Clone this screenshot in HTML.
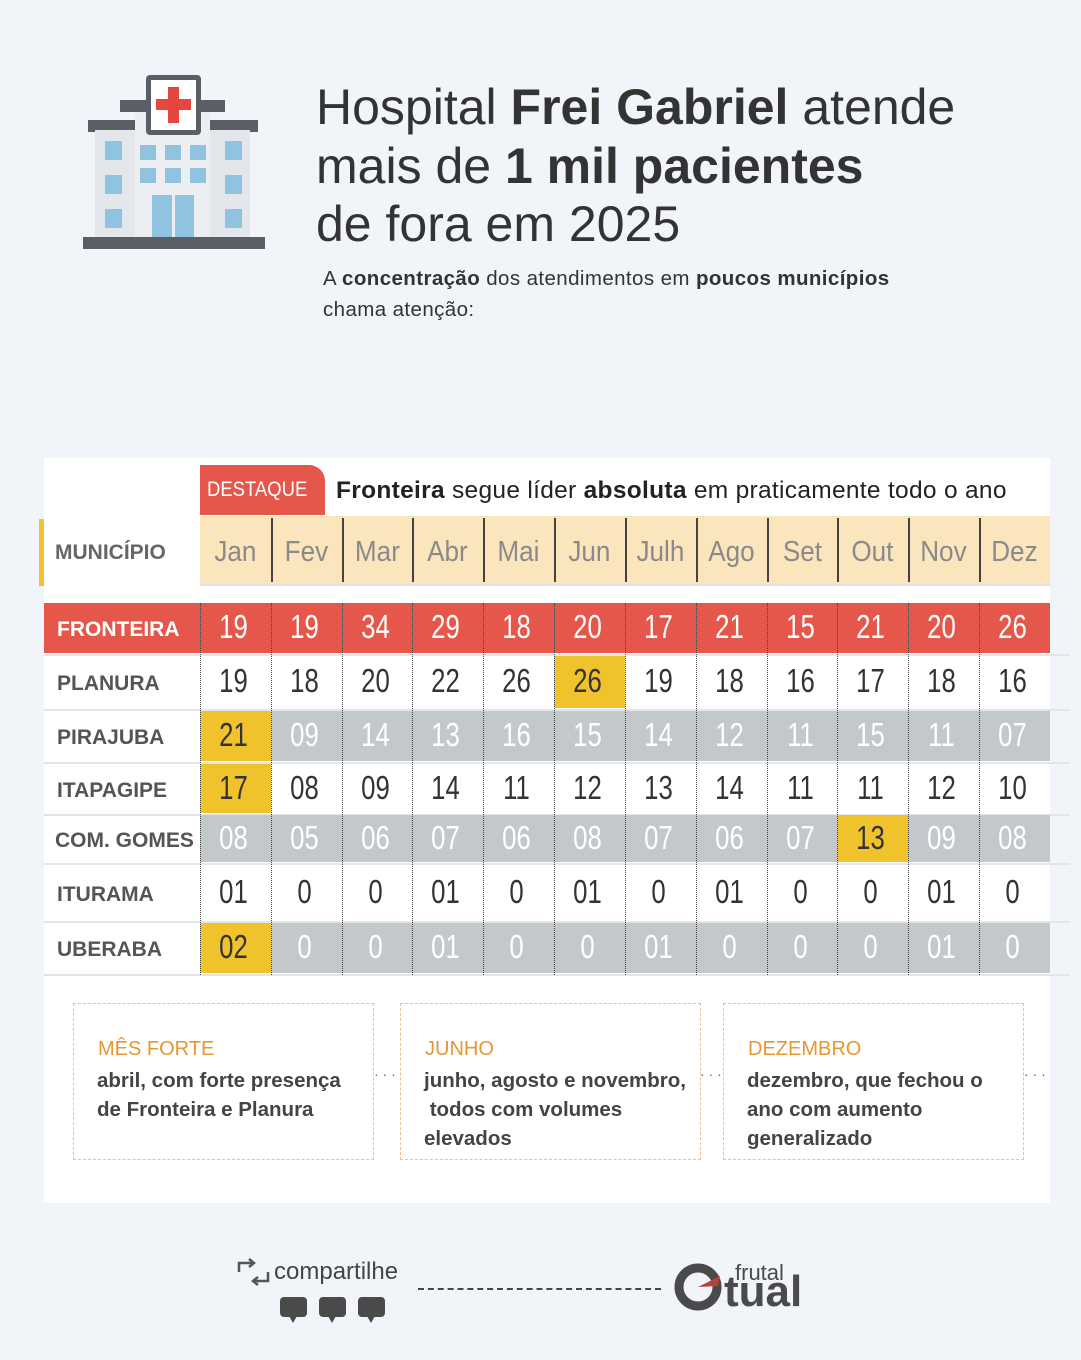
<!DOCTYPE html>
<html><head><meta charset="utf-8"><style>
*{margin:0;padding:0;box-sizing:border-box}
body{width:1081px;height:1360px;background:#f1f4f9;position:relative;font-family:"Liberation Sans",sans-serif;overflow:hidden}
.a{position:absolute}
.t{font-size:50px;color:#333;left:316px;line-height:58px;white-space:nowrap}
.s{font-size:20.5px;color:#333;left:323px;white-space:nowrap;letter-spacing:.4px}
.num{font-family:"Liberation Sans Narrow","Liberation Sans",sans-serif;font-size:33px;text-align:center;width:71px;transform:scaleX(.78)}
.lab{font-weight:bold;font-size:21px;color:#555;left:57px}
.box{border:1.5px dashed #f0c08a;width:301px;height:157px;top:1003px}
.bt{font-family:"Liberation Sans Narrow",sans-serif;color:#e8962f;font-size:20px;position:absolute;left:24px;top:34px}
.bx{font-weight:bold;color:#444;font-size:20.5px;position:absolute;left:23px;top:62px;line-height:29px;white-space:nowrap}
</style></head><body>
<svg class="a" style="left:80px;top:75px" width="190" height="180">
<rect x="8" y="45" width="170" height="12" fill="#5a5f66"/>
<rect x="15" y="55" width="155" height="110" fill="#e3e6ea"/>
<rect x="55" y="25" width="75" height="140" fill="#eceef1"/>
<rect x="40" y="25" width="105" height="12" fill="#5a5f66"/>
<rect x="66" y="0" width="55" height="60" rx="4" fill="#5a5f66"/>
<rect x="71" y="5" width="45" height="50" fill="#fff"/>
<rect x="88" y="12" width="11" height="36" fill="#e5463d"/><rect x="76" y="24" width="35" height="11" fill="#e5463d"/>
<g fill="#8fc3e0">
<rect x="25" y="66" width="17" height="19"/><rect x="25" y="100" width="17" height="19"/><rect x="25" y="134" width="17" height="19"/>
<rect x="145" y="66" width="17" height="19"/><rect x="145" y="100" width="17" height="19"/><rect x="145" y="134" width="17" height="19"/>
<rect x="60" y="70" width="16" height="15"/><rect x="85" y="70" width="16" height="15"/><rect x="110" y="70" width="16" height="15"/>
<rect x="60" y="93" width="16" height="15"/><rect x="85" y="93" width="16" height="15"/><rect x="110" y="93" width="16" height="15"/>
<rect x="72" y="120" width="42" height="44"/></g>
<rect x="92" y="120" width="3" height="44" fill="#eceef1"/>
<rect x="3" y="162" width="182" height="12" fill="#5a5f66"/>
</svg>
<div class="a t" style="top:78px">Hospital <b>Frei Gabriel</b> atende</div>
<div class="a t" style="top:137px">mais de <b>1 mil pacientes</b></div>
<div class="a t" style="top:195px">de fora em 2025</div>
<div class="a s" style="top:267px">A <b>concentração</b> dos atendimentos em <b>poucos municípios</b></div>
<div class="a s" style="top:298px">chama atenção:</div>

<div class="a" style="left:44px;top:458px;width:1006px;height:745px;background:#fff"></div>
<div class="a" style="left:200px;top:465px;width:125px;height:50px;background:#e5574a;border-top-right-radius:16px"></div>
<div class="a" style="left:207px;top:478px;color:#fff;font-size:21px;transform:scaleX(.88);transform-origin:left top;white-space:nowrap">DESTAQUE</div>
<div class="a" style="left:336px;top:477px;font-size:24.5px;color:#222;white-space:nowrap;letter-spacing:.3px"><b>Fronteira</b> segue líder <b>absoluta</b> em praticamente todo o ano</div>
<div class="a" style="left:39px;top:519px;width:5px;height:67px;background:#f0c22c"></div>
<div class="a" style="left:55px;top:541px;font-size:21px;font-weight:bold;color:#666">MUNICÍPIO</div>
<div class="a" style="left:200px;top:516px;width:850px;height:70px;background:#fbe5bd;border-bottom:2px solid #dde2e6"></div>
<div id="g"></div>
<div class="a box" style="left:73px"><div class="bt">MÊS FORTE</div><div class="bx">abril, com forte presença<br>de Fronteira e Planura</div></div>
<div class="a box" style="left:400px"><div class="bt">JUNHO</div><div class="bx">junho, agosto e novembro,<br>&nbsp;todos com volumes<br>elevados</div></div>
<div class="a box" style="left:723px"><div class="bt">DEZEMBRO</div><div class="bx">dezembro, que fechou o<br>ano com aumento<br>generalizado</div></div>
<div class="a" style="left:374px;top:1066px;color:#666;font-size:14px">· · ·</div>
<div class="a" style="left:700px;top:1066px;color:#666;font-size:14px">· · ·</div>
<div class="a" style="left:1024px;top:1066px;color:#666;font-size:14px">· · ·</div>

<svg class="a" style="left:236px;top:1258px" width="36" height="34" fill="none" stroke="#555" stroke-width="2.5">
<path d="M3 14V5h14"/><path d="M13 1l5 4-5 4"/><path d="M32 14v9H18"/><path d="M22 19l-5 4 5 4"/></svg>
<div class="a" style="left:274px;top:1258px;font-size:24px;color:#444">compartilhe</div>
<svg class="a" style="left:278px;top:1296px" width="112" height="30"><g fill="#4a4a4a">
<rect x="2" y="1" width="27" height="20" rx="4"/><path d="M11 20h8l-4 7z"/>
<rect x="41" y="1" width="27" height="20" rx="4"/><path d="M50 20h8l-4 7z"/>
<rect x="80" y="1" width="27" height="20" rx="4"/><path d="M89 20h8l-4 7z"/></g></svg>
<div class="a" style="left:418px;top:1288px;width:243px;border-top:2px dashed #444"></div>
<svg class="a" style="left:672px;top:1258px" width="145" height="55">
<circle cx="26" cy="29" r="19" fill="none" stroke="#4a4a4a" stroke-width="9"/>
<path d="M26 29 L48 18 L46 28 Z" fill="#b6433a"/>
<text x="52" y="48" font-family="Liberation Sans" font-weight="bold" font-size="44" fill="#4a4a4a">tual</text>
<text x="63" y="22" font-family="Liberation Sans" font-size="22" fill="#4a4a4a">frutal</text>
</svg>
<script>
const rows=[
["FRONTEIRA",603,50,"r",[19,19,34,29,18,20,17,21,15,21,20,26],[]],
["PLANURA",656,52,"w",[19,18,20,22,26,26,19,18,16,17,18,16],[5]],
["PIRAJUBA",711,50,"g",["21","09",14,13,16,15,14,12,11,15,11,"07"],[0]],
["ITAPAGIPE",764,49,"w",[17,"08","09",14,11,12,13,14,11,11,12,10],[0]],
["COM. GOMES",815,47,"g",["08","05","06","07","06","08","07","06","07",13,"09","08"],[9]],
["ITURAMA",866,54,"w",["01",0,0,"01",0,"01",0,"01",0,0,"01",0],[]],
["UBERABA",923,50,"g",["02",0,0,"01",0,0,"01",0,0,0,"01",0],[0]]];
const months=["Jan","Fev","Mar","Abr","Mai","Jun","Julh","Ago","Set","Out","Nov","Dez"];
let h="",W=70.83;
months.forEach((m,i)=>{let x=200+i*W;
h+=`<div class="a" style="left:${x}px;top:536px;width:${W}px;text-align:center;font-size:29px;color:#8a8a8a;transform:scaleX(.9)">${m}</div>`;
if(i>0)h+=`<div class="a" style="left:${x}px;top:518px;width:2px;height:64px;background:#444"></div>`;});
rows.forEach(r=>{let[n,y,hh,t,v,hl]=r;
h+=`<div class="a" style="left:44px;top:${y+hh+1}px;width:1026px;height:2px;background:#e3e6e8"></div>`;
if(t=="r")h+=`<div class="a" style="left:44px;top:${y}px;width:1006px;height:${hh}px;background:#e5574a"></div>`;
if(t=="g")h+=`<div class="a" style="left:200px;top:${y}px;width:850px;height:${hh}px;background:#c3c8cb"></div>`;
h+=`<div class="a lab" style="top:${y+hh/2-10}px;${t=="r"?"color:#fff;":""}${n=="COM. GOMES"?"left:55px;":""}">${n}</div>`;
v.forEach((val,i)=>{let x=200+i*W;
if(hl.includes(i))h+=`<div class="a" style="left:${x}px;top:${y}px;width:${W}px;height:${hh}px;background:#f0c22c"></div>`;
let c=(t=="w"||hl.includes(i))?"#333":"#fff";
h+=`<div class="a num" style="left:${x-2}px;top:${y+hh/2-20}px;color:${c}">${val}</div>`;});});
for(let i=0;i<12;i++){let x=200+i*W;h+=`<div class="a" style="left:${x}px;top:603px;height:372px;border-left:1.5px dotted #444"></div>`;}
document.getElementById("g").innerHTML=h;
</script>
</body></html>
